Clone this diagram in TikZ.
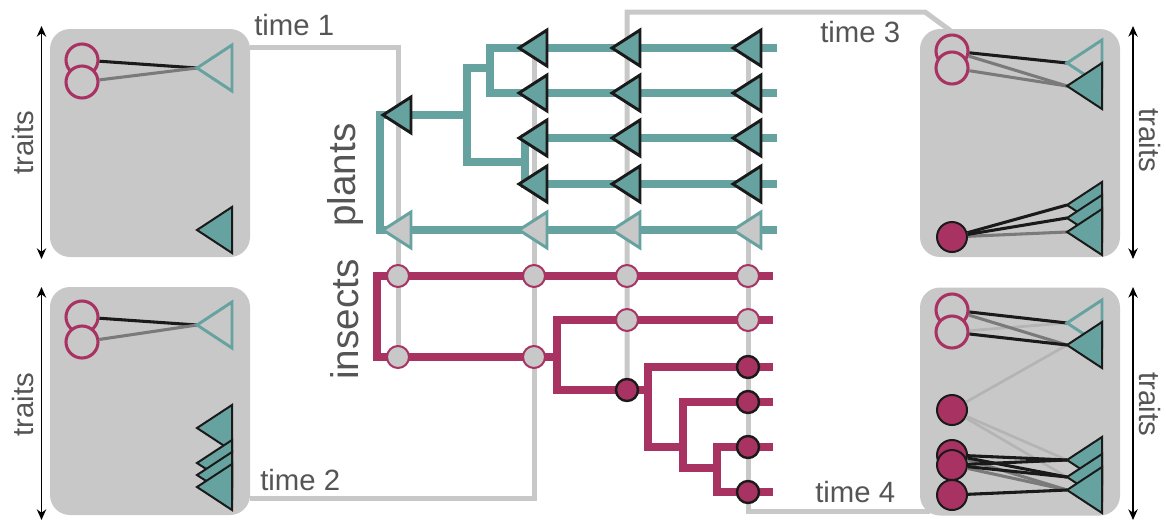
\documentclass[tikz,border=0pt]{standalone}
\usepackage{fontspec}
\setmainfont{Liberation Sans}
\usetikzlibrary{arrows.meta}
\definecolor{plantc}{HTML}{66A3A0}
\definecolor{insectc}{HTML}{A83262}
\definecolor{panelc}{HTML}{C8C8C8}
\definecolor{textc}{HTML}{555555}
\definecolor{edgec}{HTML}{1A1A1A}
\definecolor{midc}{HTML}{7A7A7A}
\definecolor{faintc}{HTML}{B4B4B4}
\begin{document}
\begin{tikzpicture}[x=0.75pt,y=-0.75pt,
 panelbox/.style={fill=panelc,rounded corners=15pt,minimum width=150pt,minimum height=171pt,inner sep=0pt},
 timeline/.style={draw=panelc,line width=3.75pt},
 plantbr/.style={draw=plantc,line width=6pt},
 insectbr/.style={draw=insectc,line width=5.8pt},
 lbl/.style={text=textc,font=\fontsize{22}{26}\selectfont,inner sep=0pt},
 biglbl/.style={text=textc,font=\fontsize{29}{34}\selectfont,inner sep=0pt,rotate=90,anchor=base west},
 traitarrow/.style={{Stealth[length=8pt,width=7pt]}-{Stealth[length=8pt,width=7pt]},line width=1.1pt,draw=black},
 ocirc/.style={circle,draw=insectc,line width=2.3pt,fill=panelc,minimum size=24pt,inner sep=0pt},
 fcirc/.style={circle,draw=edgec,line width=1.5pt,fill=insectc,minimum size=22.5pt,inner sep=0pt},
 tlight/.style={circle,draw=insectc,line width=1.5pt,fill=panelc,minimum size=16.5pt,inner sep=0pt},
 tdark/.style={circle,draw=edgec,line width=1.8pt,fill=insectc,minimum size=16.5pt,inner sep=0pt},
 otri/.style={draw=plantc,line width=2.2pt,fill=panelc},
 dtri/.style={draw=edgec,line width=1.5pt,fill=plantc},
 ptlight/.style={draw=plantc,line width=2.2pt,fill=panelc},
 ptdark/.style={draw=edgec,line width=2.2pt,fill=plantc},
 lnblack/.style={draw=edgec,line width=2.3pt},
 lngray/.style={draw=midc,line width=2.3pt},
 lnfaint/.style={draw=faintc,line width=2pt},
 bigtri/.pic={\path[pic actions] (0,0)--(35,-23)--(35,23)--cycle;},
 smtri/.pic={\path[pic actions] (-15,0)--(13,-18)--(13,18)--cycle;}
]
\useasboundingbox (0,0) rectangle (1166,522);

% time lines
\draw[timeline] (250,47) -- (398,47) -- (398,357);
\draw[timeline] (250,498) -- (534,498) -- (534,48);
\draw[timeline] (627,392) -- (627,12) -- (925,12) -- (955,34);
\draw[timeline] (748,48) -- (748,511) -- (930,511);

% panels
\node[panelbox] (P1) at (150,143) {};
\node[panelbox] (P2) at (150,401) {};
\node[panelbox] (P3) at (1020,143) {};
\node[panelbox] (P4) at (1020,401.5) {};

% trait arrows
\coordinate (ar1a) at (41.5,26);  \coordinate (ar1b) at (41.5,259);
\coordinate (ar2a) at (41.5,287); \coordinate (ar2b) at (41.5,520);
\coordinate (ar3a) at (1133,26);  \coordinate (ar3b) at (1133,259);
\coordinate (ar4a) at (1133,287); \coordinate (ar4b) at (1133,520);
\draw[traitarrow] (ar1a) -- (ar1b);
\draw[traitarrow] (ar2a) -- (ar2b);
\draw[traitarrow] (ar3a) -- (ar3b);
\draw[traitarrow] (ar4a) -- (ar4b);

% labels
\node[lbl,anchor=base west] (l1) at (254,35) {time 1};
\node[lbl,anchor=base west] (l2) at (260,490) {time 2};
\node[lbl,anchor=base west] (l3) at (820,42) {time 3};
\node[lbl,anchor=base west] (l4) at (815,502) {time 4};
\node[lbl,rotate=90,anchor=base west] (tr1) at (33,175) {traits};
\node[lbl,rotate=90,anchor=base west] (tr2) at (33,437) {traits};
\node[lbl,rotate=-90,anchor=base west] (tr3) at (1139,108) {traits};
\node[lbl,rotate=-90,anchor=base west] (tr4) at (1139,372) {traits};
\node[biglbl] (pl) at (355,227) {plants};
\node[biglbl] (in) at (358,380) {insects};

% plant tree
\draw[plantbr] (467,115) -- (380,115) -- (380,230) -- (777,230);
\draw[plantbr] (777,48) -- (490,48) -- (490,93) -- (777,93);
\draw[plantbr] (490,68) -- (467,68) -- (467,162) -- (525,162);
\draw[plantbr] (777,138) -- (525,138) -- (525,184) -- (777,184);
\pic[ptdark] at (398,115) {smtri};
\foreach \x in {534,627,748}{
  \foreach \y in {48,93,138,184}{\pic[ptdark] at (\x,\y) {smtri};}
}
\foreach \x in {398,534,627,748}{\pic[ptlight] at (\x,230) {smtri};}

% insect tree
\draw[insectbr] (773,276) -- (377,276) -- (377,357) -- (557,357);
\draw[insectbr] (773,320) -- (557,320) -- (557,390) -- (648,390);
\draw[insectbr] (773,367) -- (648,367) -- (648,447) -- (683,447);
\draw[insectbr] (773,402) -- (683,402) -- (683,468) -- (717,468);
\draw[insectbr] (773,447) -- (717,447) -- (717,492) -- (773,492);
\node[tlight] (i11) at (398,276) {};
\node[tlight] (i12) at (398,357) {};
\node[tlight] (i21) at (534,276) {};
\node[tlight] (i22) at (534,357) {};
\node[tlight] (i31) at (627,276) {};
\node[tlight] (i32) at (627,320) {};
\node[tdark]  (i33) at (627,390) {};
\node[tlight] (i41) at (748,276) {};
\node[tlight] (i42) at (748,320) {};
\node[tdark]  (i43) at (748,367) {};
\node[tdark]  (i44) at (748,402) {};
\node[tdark]  (i45) at (748,447) {};
\node[tdark]  (i46) at (748,492) {};

% panel 1 (time 1)
\node[ocirc] (a1) at (82,60) {};
\node[ocirc] (a2) at (82,82) {};
\coordinate (aO) at (197,68);
\coordinate (aD) at (197,230);
\draw[lnblack] (a1) -- (aO);
\draw[lngray] (a2) -- (aO);
\pic[otri] at (aO) {bigtri};
\pic[dtri] at (aD) {bigtri};

% panel 2 (time 2)
\node[ocirc] (b1) at (82,317) {};
\node[ocirc] (b2) at (82,342) {};
\coordinate (bO) at (197,325);
\draw[lnblack] (b1) -- (bO);
\draw[lngray] (b2) -- (bO);
\pic[otri] at (bO) {bigtri};
\foreach \y in {428,463,475,487}{\pic[dtri] at (197,\y) {bigtri};}

% panel 3 (time 3)
\node[ocirc] (c1) at (952,51) {};
\node[ocirc] (c2) at (952,68) {};
\node[fcirc] (cf) at (952,237) {};
\coordinate (cO) at (1067,63);
\coordinate (cD) at (1067,86);
\coordinate (cT1) at (1067,205);
\coordinate (cT2) at (1067,218);
\coordinate (cT3) at (1067,232);
\draw[lngray] (c1) -- (cD);
\draw[lngray] (c2) -- (cD);
\draw[lnblack] (c1) -- (cO);
\draw[lngray] (cf) -- (cT3);
\draw[lnblack] (cf) -- (cT1);
\draw[lnblack] (cf) -- (cT2);
\pic[otri] at (cO) {bigtri};
\pic[dtri] at (cD) {bigtri};
\pic[dtri] at (cT1) {bigtri};
\pic[dtri] at (cT2) {bigtri};
\pic[dtri] at (cT3) {bigtri};

% panel 4 (time 4)
\node[ocirc] (d1) at (952,310) {};
\node[ocirc] (d2) at (952,332) {};
\node[fcirc] (dm) at (952,410) {};
\node[fcirc] (k1) at (952,455) {};
\node[fcirc] (k2) at (952,465) {};
\node[fcirc] (k3) at (952,495) {};
\coordinate (dO) at (1067,323);
\coordinate (dD) at (1067,345);
\coordinate (dT1) at (1067,460);
\coordinate (dT2) at (1067,477);
\coordinate (dT3) at (1067,490);
\draw[lnfaint] (d2) -- (dO);
\draw[lnfaint] (dm) -- (dD);
\draw[lnfaint] (dm) -- (dT1);
\draw[lnfaint] (dm) -- (dT2);
\draw[lngray] (d1) -- (dD);
\draw[lngray] (k1) -- (dT3);
\draw[lngray] (k2) -- (dT3);
\draw[lnblack] (d1) -- (dO);
\draw[lnblack] (d2) -- (dD);
\draw[lnblack] (k1) -- (dT1);
\draw[lnblack] (k1) -- (dT2);
\draw[lnblack] (k2) -- (dT1);
\draw[lnblack] (k2) -- (dT2);
\draw[lnblack] (k3) -- (dT3);
\pic[otri] at (dO) {bigtri};
\pic[dtri] at (dD) {bigtri};
\pic[dtri] at (dT1) {bigtri};
\pic[dtri] at (dT2) {bigtri};
\pic[dtri] at (dT3) {bigtri};
\end{tikzpicture}
\end{document}
